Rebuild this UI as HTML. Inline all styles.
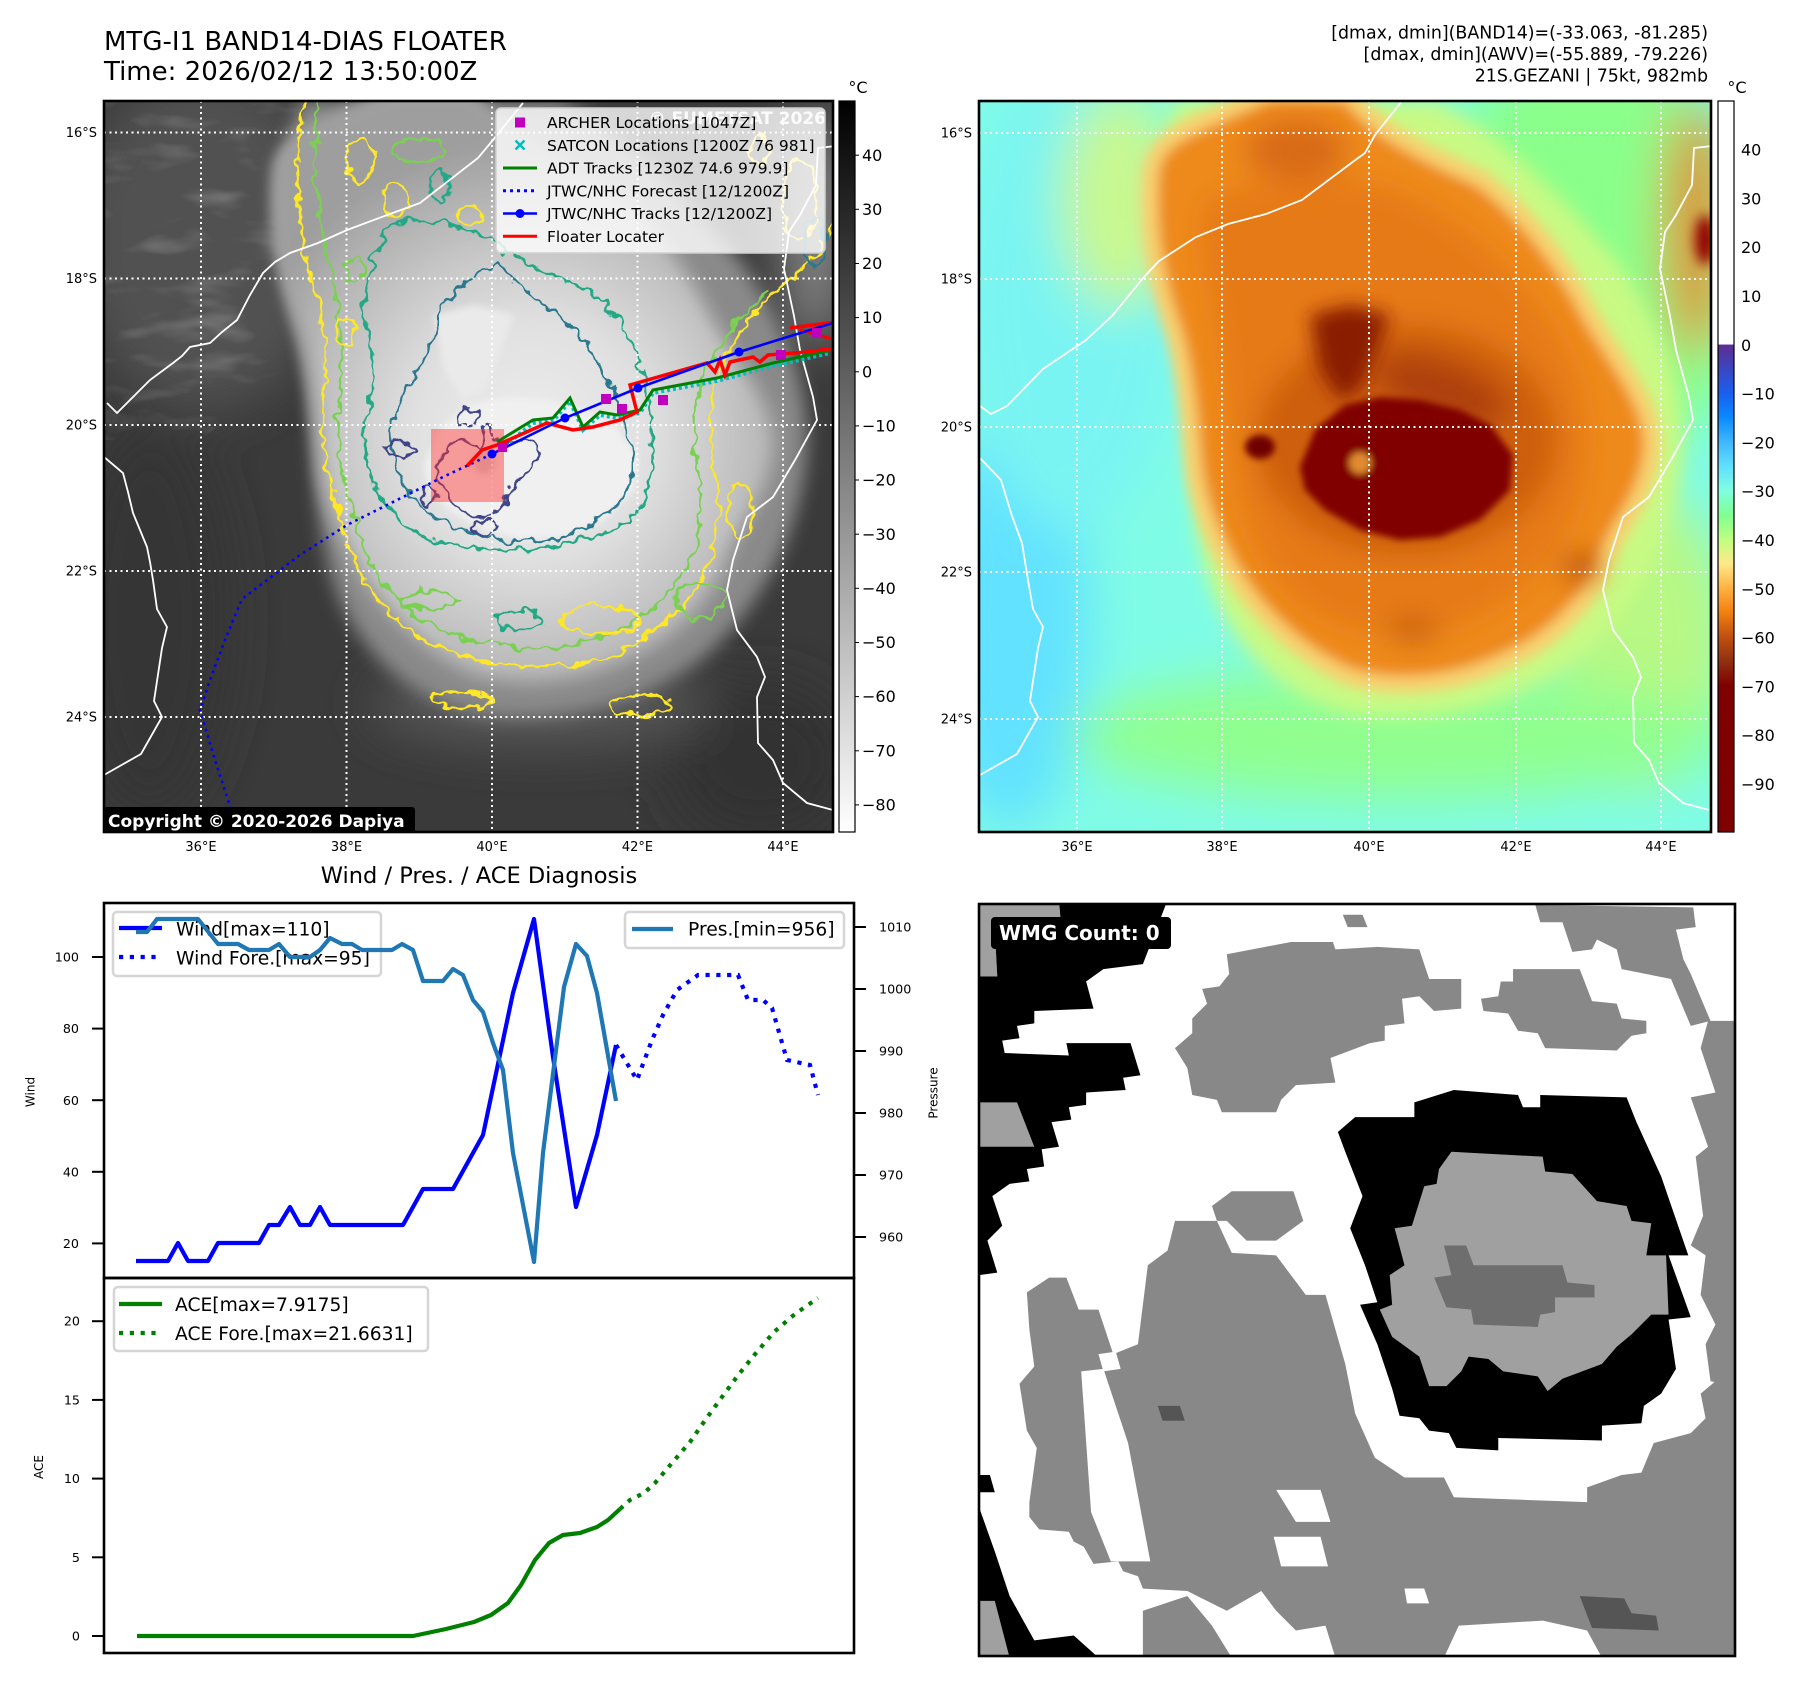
<!DOCTYPE html>
<html><head><meta charset="utf-8"><style>
html,body{margin:0;padding:0;background:#fff;}
body{width:1797px;height:1690px;overflow:hidden;}
svg{display:block;font-family:"DejaVu Sans","Liberation Sans",sans-serif;}
</style></head><body>
<svg width="1797" height="1690" viewBox="0 0 1797 1690" xmlns="http://www.w3.org/2000/svg">
<defs>
<clipPath id="cl"><rect x="104" y="101" width="729" height="731"/></clipPath>
<clipPath id="cr"><rect x="979" y="101" width="732" height="731"/></clipPath>
<clipPath id="cw"><rect x="104" y="903" width="750" height="375"/></clipPath>
<clipPath id="cul"><polygon points="104,101 330,101 300,250 280,380 200,440 104,440"/></clipPath>
<filter id="b6" filterUnits="userSpaceOnUse" x="-900" y="0" width="3600" height="1690"><feGaussianBlur stdDeviation="6"/></filter>
<filter id="b4" filterUnits="userSpaceOnUse" x="-900" y="0" width="3600" height="1690"><feGaussianBlur stdDeviation="3.5"/></filter>
<filter id="b9" filterUnits="userSpaceOnUse" x="-900" y="0" width="3600" height="1690"><feGaussianBlur stdDeviation="9"/></filter>
<filter id="b14" filterUnits="userSpaceOnUse" x="-900" y="0" width="3600" height="1690"><feGaussianBlur stdDeviation="14"/></filter>
<filter id="b25" filterUnits="userSpaceOnUse" x="-900" y="0" width="3600" height="1690"><feGaussianBlur stdDeviation="25"/></filter>
<filter id="rough" filterUnits="userSpaceOnUse" x="0" y="0" width="1797" height="1690">
<feTurbulence type="fractalNoise" baseFrequency="0.08" numOctaves="2" seed="4" result="n"/>
<feDisplacementMap in="SourceGraphic" in2="n" scale="15" xChannelSelector="R" yChannelSelector="G"/>
</filter>
<filter id="wtex" filterUnits="userSpaceOnUse" x="0" y="0" width="1797" height="1690">
<feTurbulence type="fractalNoise" baseFrequency="0.012 0.035" numOctaves="3" seed="5"/>
<feColorMatrix type="matrix" values="0 0 0 0 1  0 0 0 0 1  0 0 0 0 1  3 0 0 0 -1.55"/>
</filter>
<radialGradient id="gGr" gradientUnits="userSpaceOnUse" cx="531" cy="440" r="300">
<stop offset="0" stop-color="#ededed"/><stop offset="0.4" stop-color="#e0e0e0"/><stop offset="0.65" stop-color="#c6c6c6"/><stop offset="0.85" stop-color="#b0b0b0"/><stop offset="1" stop-color="#9e9e9e"/>
</radialGradient>
<linearGradient id="gcb1" x1="0" y1="0" x2="0" y2="1"><stop offset="0" stop-color="#000"/><stop offset="1" stop-color="#fff"/></linearGradient>
<linearGradient id="gcb2" x1="0" y1="0" x2="0" y2="1">
<stop offset="0" stop-color="#fff"/><stop offset="0.333" stop-color="#fff"/>
<stop offset="0.3335" stop-color="#5c2d91"/>
<stop offset="0.40" stop-color="#1a5ff0"/>
<stop offset="0.433" stop-color="#0a8aff"/>
<stop offset="0.467" stop-color="#40b8ff"/>
<stop offset="0.50" stop-color="#60e0ff"/>
<stop offset="0.533" stop-color="#80ffe0"/>
<stop offset="0.567" stop-color="#80ff90"/>
<stop offset="0.60" stop-color="#c0ff80"/>
<stop offset="0.633" stop-color="#ffe888"/>
<stop offset="0.667" stop-color="#ffb040"/>
<stop offset="0.70" stop-color="#f08010"/>
<stop offset="0.733" stop-color="#c05010"/>
<stop offset="0.767" stop-color="#903010"/>
<stop offset="0.80" stop-color="#800000"/>
<stop offset="1" stop-color="#800000"/>
</linearGradient>
</defs>

<!-- Titles -->
<text x="104" y="50" font-size="26">MTG-I1 BAND14-DIAS FLOATER</text>
<text x="104" y="80" font-size="26">Time: 2026/02/12 13:50:00Z</text>
<text x="1708" y="38.5" font-size="17.4" text-anchor="end">[dmax, dmin](BAND14)=(-33.063, -81.285)</text>
<text x="1708" y="60" font-size="17.4" text-anchor="end">[dmax, dmin](AWV)=(-55.889, -79.226)</text>
<text x="1708" y="81.5" font-size="17.4" text-anchor="end">21S.GEZANI | 75kt, 982mb</text>

<!-- ============ LEFT MAP ============ -->
<g clip-path="url(#cl)">
<rect x="104" y="101" width="729" height="731" fill="#3a3a3a"/>
<g filter="url(#b25)">
<ellipse cx="205" cy="240" rx="130" ry="170" fill="#515151"/>
<ellipse cx="150" cy="620" rx="80" ry="200" fill="#353535"/>
<ellipse cx="760" cy="760" rx="90" ry="80" fill="#333"/>
<ellipse cx="540" cy="705" rx="170" ry="40" fill="#585858"/>
<ellipse cx="815" cy="230" rx="30" ry="120" fill="#8a8a8a"/>
</g>
<g clip-path="url(#cul)"><rect x="104" y="101" width="300" height="360" filter="url(#wtex)" opacity="0.2"/></g>
<g filter="url(#b9)">
<path fill="#8a8a8a" d="M300,101 L560,101 C620,130 680,190 740,260 C790,330 815,400 805,470 C795,540 760,610 700,660 C640,705 560,725 480,715 C410,700 365,655 340,600 C318,545 315,480 312,410 C308,340 290,280 285,220 C282,170 290,130 300,101 Z"/>
</g>
<g filter="url(#b6)">
<path fill="#a0a0a0" stroke="#a0a0a0" stroke-width="24" d="M283,174 C285,140 330,130 394,101 L468,101 C490,130 530,155 599,185 C640,215 680,265 705,316 C730,360 765,400 768,440 C768,490 735,520 721,559 C705,600 670,635 626,653 C580,675 530,682 480,670 C440,655 400,620 375,585 C345,540 330,500 326,464 C322,420 318,370 306,330 C292,290 278,240 283,174 Z"/>
<path fill="url(#gGr)" d="M283,174 C285,140 330,130 394,101 L468,101 C490,130 530,155 599,185 C640,215 680,265 705,316 C730,360 765,400 768,440 C768,490 735,520 721,559 C705,600 670,635 626,653 C580,675 530,682 480,670 C440,655 400,620 375,585 C345,540 330,500 326,464 C322,420 318,370 306,330 C292,290 278,240 283,174 Z"/>
</g>
<g filter="url(#b4)">
<polygon fill="#eaeaea" points="434,315 474,305 514,315 499,355 484,390 464,400 444,370"/>
<polygon fill="#f0f0f0" points="424,467 439,430 469,405 504,397 544,400 584,410 614,425 637,455 634,490 604,520 564,537 524,540 484,530 449,510 429,490"/>
<circle cx="484" cy="463" r="11" fill="#d2d2d2"/>
</g>
<!-- contours -->
<g filter="url(#rough)" fill="none" stroke-width="2.6">
<path stroke="#fde725" d="M303,101 C296,150 296,200 305,250 C315,290 330,330 325,380 C318,420 325,470 340,520 C355,580 390,630 450,652 C520,675 590,672 640,640 C690,610 715,570 718,520 C720,480 705,440 712,400 C720,350 760,300 800,270 C820,255 830,230 840,210"/>
<path stroke="#7ad151" d="M318,101 C312,160 315,210 328,260 C338,300 345,340 340,390 C335,440 345,490 358,530 C375,585 410,620 460,638 C520,655 585,650 630,625 C672,600 695,565 700,520 C703,480 690,440 697,400 C705,360 735,320 770,290"/>
<path stroke="#22a884" d="M390,227 C420,212 460,225 490,240 C520,262 560,280 590,290 C615,310 630,335 637,357 C645,380 650,400 650,420 C655,450 655,475 643,503 C630,525 610,533 580,540 C550,548 530,550 513,550 C480,550 450,545 423,537 C395,520 380,500 373,480 C365,460 363,440 363,430 C368,410 373,395 373,380 C370,350 365,330 363,313 C365,280 375,250 390,227 Z"/>
<path stroke="#2a788e" d="M440,320 C445,295 470,280 497,262 C520,290 550,310 575,330 C600,360 620,400 630,440 C635,470 630,490 623,497 C610,515 590,527 560,538 C530,545 500,540 483,537 C455,528 435,515 423,507 C400,485 390,455 390,430 C395,400 430,360 440,320 Z"/>
<ellipse cx="360" cy="160" rx="14" ry="22" stroke="#fde725"/>
<ellipse cx="420" cy="150" rx="25" ry="12" stroke="#7ad151"/>
<ellipse cx="395" cy="200" rx="12" ry="18" stroke="#fde725"/>
<ellipse cx="440" cy="185" rx="10" ry="16" stroke="#22a884"/>
<ellipse cx="470" cy="215" rx="14" ry="8" stroke="#fde725"/>
<ellipse cx="345" cy="330" rx="10" ry="14" stroke="#fde725"/>
<ellipse cx="355" cy="270" rx="8" ry="12" stroke="#7ad151"/>
<ellipse cx="600" cy="620" rx="40" ry="14" stroke="#fde725"/>
<ellipse cx="700" cy="600" rx="25" ry="18" stroke="#7ad151"/>
<ellipse cx="430" cy="600" rx="30" ry="10" stroke="#7ad151"/>
<ellipse cx="460" cy="700" rx="30" ry="8" stroke="#fde725"/>
<ellipse cx="640" cy="705" rx="30" ry="10" stroke="#fde725"/>
<ellipse cx="520" cy="620" rx="25" ry="9" stroke="#22a884"/>
<ellipse cx="740" cy="510" rx="12" ry="30" stroke="#fde725"/>
<ellipse cx="800" cy="200" rx="18" ry="40" stroke="#fde725"/>
<ellipse cx="815" cy="240" rx="10" ry="25" stroke="#2a788e"/>
<ellipse cx="760" cy="150" rx="10" ry="14" stroke="#fde725"/>
</g>
<g fill="none" stroke="#414487" stroke-width="2.6" filter="url(#rough)">
<path d="M437,470 C440,490 450,503 465,512 C480,522 495,520 507,497 C515,485 530,470 537,457 C540,445 530,440 520,440 C510,438 505,445 500,443 C495,435 490,425 487,423 C482,430 482,440 480,447 C470,442 462,438 457,440 C447,445 440,455 437,470 Z"/>
<ellipse cx="468" cy="418" rx="10" ry="8"/>
<ellipse cx="485" cy="528" rx="12" ry="7"/>
<ellipse cx="428" cy="495" rx="7" ry="10"/>
<ellipse cx="400" cy="450" rx="14" ry="9"/>
</g>
<!-- coastlines -->
<g fill="none" stroke="#fff" stroke-width="1.8">
<polyline points="523,103 493,140 478,158 420,203 390,214 347,230 318,243 290,253 275,262 263,273 250,295 237,320 222,332 210,343 190,347 182,356 173,363 150,380 130,400 117,413 107,403"/>
<polyline points="104,457 123,473 128,492 133,513 140,530 147,547 150,562 153,580 157,609 167,627 162,648 154,701 162,717 141,754 104,775"/>
<polyline points="836,146 818,148 816,185 800,215 789,232 784,269 794,316 800,350 813,397 817,420 795,460 773,497 747,517 733,560 727,590 737,630 757,657 765,677 757,697 758,743 773,760 783,783 807,803 833,810"/>
</g>
<!-- grid -->
<g stroke="#fff" stroke-width="2" stroke-dasharray="2,3.5">
<line x1="201" y1="101" x2="201" y2="832"/><line x1="346.5" y1="101" x2="346.5" y2="832"/><line x1="492" y1="101" x2="492" y2="832"/><line x1="637.5" y1="101" x2="637.5" y2="832"/><line x1="783" y1="101" x2="783" y2="832"/>
<line x1="104" y1="132.5" x2="833" y2="132.5"/><line x1="104" y1="278.5" x2="833" y2="278.5"/><line x1="104" y1="425" x2="833" y2="425"/><line x1="104" y1="571" x2="833" y2="571"/><line x1="104" y1="717" x2="833" y2="717"/>
</g>
<!-- floater box -->
<rect x="431" y="429" width="73" height="73" fill="#ff3030" opacity="0.45"/>
<!-- tracks -->
<polyline points="492,454 443,477 347,525 300,555 242,599 225,640 210,680 200,710 215,760 230,806 238,832" fill="none" stroke="#0000ff" stroke-width="2.6" stroke-dasharray="2.6,4.2"/>
<polyline points="505,446 533,423 553,421 570,401 583,430 600,415 617,418 640,413 653,393 717,381 773,366 830,353" fill="none" stroke="#00bfbf" stroke-width="4" stroke-dasharray="3,3"/>
<polyline points="497,442 533,420 553,418 570,398 583,427 600,412 617,415 640,410 653,390 717,378 773,363 836,349" fill="none" stroke="#008000" stroke-width="3"/>
<polyline points="467,466 482,450 497,445 547,423 573,430 593,427 620,420 637,412 630,385 707,363 715,372 720,360 725,375 730,362 753,357 760,362 768,355 807,352 836,348" fill="none" stroke="#ff0000" stroke-width="3.5"/>
<polyline points="790,328 836,322" fill="none" stroke="#ff0000" stroke-width="3.5"/>
<polyline points="800,330 836,340" fill="none" stroke="#ff0000" stroke-width="3"/>
<polyline points="492,454 565,418 638,388 739,352 836,322" fill="none" stroke="#0000ff" stroke-width="2.6"/>
<g fill="#0000ff"><circle cx="492" cy="454" r="4.5"/><circle cx="565" cy="418" r="4.5"/><circle cx="638" cy="388" r="4.5"/><circle cx="739" cy="352" r="4.5"/></g>
<g fill="#bf00bf"><rect x="601" y="394" width="10" height="10"/><rect x="617" y="404" width="10" height="10"/><rect x="658" y="395" width="10" height="10"/><rect x="776" y="350" width="10" height="10"/><rect x="812" y="328" width="10" height="10"/><rect x="498" y="443" width="9" height="9"/></g>
<!-- watermark -->
<text x="826" y="124" font-size="17" font-weight="bold" fill="#e8e8e8" text-anchor="end">© EUMETSAT 2026</text>
<!-- copyright -->
<rect x="104" y="807" width="311" height="26" rx="3" fill="#000"/>
<text x="108" y="827" font-size="17" font-weight="bold" fill="#fff">Copyright © 2020-2026 Dapiya</text>
</g>
<rect x="104" y="101" width="729" height="731" fill="none" stroke="#000" stroke-width="2.6"/>

<!-- legend left map -->
<rect x="496" y="108" width="329" height="145" rx="5" fill="#fff" fill-opacity="0.8" stroke="#d0d0d0" stroke-width="1.5"/>
<rect x="515" y="117.5" width="10" height="10" fill="#bf00bf"/>
<path d="M515.5,140.5 L524.5,149.5 M524.5,140.5 L515.5,149.5" stroke="#00bfbf" stroke-width="2.6"/>
<line x1="503" y1="168" x2="537" y2="168" stroke="#008000" stroke-width="3"/>
<line x1="503" y1="190.7" x2="537" y2="190.7" stroke="#0000ff" stroke-width="3" stroke-dasharray="3,4"/>
<line x1="503" y1="213.5" x2="537" y2="213.5" stroke="#0000ff" stroke-width="2.6"/><circle cx="520" cy="213.5" r="4.5" fill="#0000ff"/>
<line x1="503" y1="236.3" x2="537" y2="236.3" stroke="#ff0000" stroke-width="3"/>
<g font-size="15.5" fill="#000">
<text x="547" y="128">ARCHER Locations [1047Z]</text>
<text x="547" y="151">SATCON Locations [1200Z 76 981]</text>
<text x="547" y="173.6">ADT Tracks [1230Z 74.6 979.9]</text>
<text x="547" y="196.3">JTWC/NHC Forecast [12/1200Z]</text>
<text x="547" y="219">JTWC/NHC Tracks [12/1200Z]</text>
<text x="547" y="242">Floater Locater</text>
</g>

<!-- left map tick labels -->
<g font-size="13" text-anchor="end">
<text x="97" y="137">16°S</text><text x="97" y="283">18°S</text><text x="97" y="429.5">20°S</text><text x="97" y="575.5">22°S</text><text x="97" y="721.5">24°S</text>
</g>
<g font-size="13" text-anchor="middle">
<text x="201" y="851">36°E</text><text x="346.5" y="851">38°E</text><text x="492" y="851">40°E</text><text x="637.5" y="851">42°E</text><text x="783" y="851">44°E</text>
</g>

<!-- colorbar 1 -->
<rect x="839" y="101" width="16" height="731" fill="url(#gcb1)" stroke="#000" stroke-width="1.2"/>
<text x="858" y="93" font-size="16" text-anchor="middle">°C</text>
<g stroke="#000" stroke-width="1">
<line x1="855" y1="155.2" x2="859" y2="155.2"/><line x1="855" y1="209.3" x2="859" y2="209.3"/><line x1="855" y1="263.5" x2="859" y2="263.5"/><line x1="855" y1="317.6" x2="859" y2="317.6"/><line x1="855" y1="371.8" x2="859" y2="371.8"/><line x1="855" y1="425.9" x2="859" y2="425.9"/><line x1="855" y1="480" x2="859" y2="480"/><line x1="855" y1="534.2" x2="859" y2="534.2"/><line x1="855" y1="588.3" x2="859" y2="588.3"/><line x1="855" y1="642.5" x2="859" y2="642.5"/><line x1="855" y1="696.6" x2="859" y2="696.6"/><line x1="855" y1="750.8" x2="859" y2="750.8"/><line x1="855" y1="804.9" x2="859" y2="804.9"/>
</g>
<g font-size="16">
<text x="862" y="161">40</text><text x="862" y="215">30</text><text x="862" y="269">20</text><text x="862" y="323">10</text><text x="862" y="377.5">0</text>
<text x="862" y="431.5">−10</text><text x="862" y="485.5">−20</text><text x="862" y="540">−30</text><text x="862" y="594">−40</text><text x="862" y="648">−50</text><text x="862" y="702">−60</text><text x="862" y="756.5">−70</text><text x="862" y="810.5">−80</text>
</g>

<!-- ============ RIGHT MAP ============ -->
<g clip-path="url(#cr)">
<rect x="979" y="101" width="732" height="731" fill="#80fce6"/>
<g filter="url(#b25)">
<ellipse cx="1010" cy="620" rx="80" ry="210" fill="#62e2ff"/>
<ellipse cx="1070" cy="300" rx="110" ry="230" fill="#7af4f2"/>
<ellipse cx="1590" cy="260" rx="170" ry="210" fill="#8aff8a"/>
<ellipse cx="1640" cy="640" rx="90" ry="150" fill="#b8f884"/>
<ellipse cx="1400" cy="735" rx="330" ry="65" fill="#90ff90"/>
<ellipse cx="1120" cy="200" rx="60" ry="110" fill="#c8f890"/>
<ellipse cx="1695" cy="230" rx="30" ry="130" fill="#e08020"/>
</g>
<ellipse cx="1705" cy="240" rx="10" ry="25" fill="#900000" filter="url(#b6)"/>
<g transform="translate(876,0)">
<g filter="url(#b9)">
<path fill="#c8fa84" d="M300,101 L560,101 C620,130 680,190 740,260 C790,330 815,400 805,470 C795,540 760,610 700,660 C640,705 560,725 480,715 C410,700 365,655 340,600 C318,545 315,480 312,410 C308,340 290,280 285,220 C282,170 290,130 300,101 Z"/>
</g>
<g filter="url(#b6)">
<path fill="#f8d070" stroke="#f8d070" stroke-width="34" d="M283,174 C285,140 330,130 394,101 L468,101 C490,130 530,155 599,185 C640,215 680,265 705,316 C730,360 765,400 768,440 C768,490 735,520 721,559 C705,600 670,635 626,653 C580,675 530,682 480,670 C440,655 400,620 375,585 C345,540 330,500 326,464 C322,420 318,370 306,330 C292,290 278,240 283,174 Z"/>
<path fill="#ee8a1c" d="M283,174 C285,140 330,130 394,101 L468,101 C490,130 530,155 599,185 C640,215 680,265 705,316 C730,360 765,400 768,440 C768,490 735,520 721,559 C705,600 670,635 626,653 C580,675 530,682 480,670 C440,655 400,620 375,585 C345,540 330,500 326,464 C322,420 318,370 306,330 C292,290 278,240 283,174 Z"/>
</g>
<g filter="url(#b14)">
<path fill="#e67a16" d="M330,200 C380,180 450,170 520,190 C590,220 640,270 680,330 C715,390 720,450 700,510 C680,565 630,610 570,630 C510,645 450,630 410,590 C375,550 360,500 355,450 C350,400 345,350 335,300 C325,260 320,220 330,200 Z"/>
<ellipse cx="531" cy="440" rx="150" ry="115" fill="#c85a10" opacity="0.85"/>
<ellipse cx="565" cy="390" rx="70" ry="30" transform="rotate(20 565 390)" fill="#a83a10" opacity="0.8"/>
<ellipse cx="705" cy="567" rx="18" ry="12" fill="#b04a0c"/>
<ellipse cx="537" cy="630" rx="25" ry="10" fill="#c0560e"/>
<ellipse cx="420" cy="150" rx="50" ry="30" fill="#d86a14"/>
</g>
<g filter="url(#b9)">
<polygon fill="#8a1a04" points="434,315 474,305 514,315 499,355 484,390 464,400 444,370"/>
</g>
<g filter="url(#b4)">
<polygon fill="#800000" points="424,467 439,430 469,405 504,397 544,400 584,410 614,425 637,455 634,490 604,520 564,537 524,540 484,530 449,510 429,490"/>
<ellipse cx="384" cy="447" rx="15" ry="12" fill="#700000"/>
<circle cx="484" cy="463" r="11" fill="#e08a30"/>
</g>
<g fill="none" stroke="#fff" stroke-width="1.8">
<polyline points="526,101 499,135 489,153 478,161 426,200 390,214 352,224 320,237 283,261 268,277 236,316 210,340 167,369 131,406 115,414 104,406"/>
<polyline points="104,458 125,480 136,516 146,543 152,580 157,609 167,627 162,648 154,701 162,717 141,754 104,775"/>
<polyline points="836,146 818,148 816,185 800,215 789,232 784,269 794,316 800,350 813,397 817,420 795,460 773,497 747,517 733,560 727,590 737,630 757,657 765,677 757,697 758,743 773,760 783,783 807,803 833,810"/>
</g>
</g>
<g stroke="#fff" stroke-width="2" stroke-dasharray="2,3.5">
<line x1="1077" y1="101" x2="1077" y2="832"/><line x1="1222" y1="101" x2="1222" y2="832"/><line x1="1369" y1="101" x2="1369" y2="832"/><line x1="1516" y1="101" x2="1516" y2="832"/><line x1="1661" y1="101" x2="1661" y2="832"/>
<line x1="979" y1="133" x2="1711" y2="133"/><line x1="979" y1="279" x2="1711" y2="279"/><line x1="979" y1="427" x2="1711" y2="427"/><line x1="979" y1="572" x2="1711" y2="572"/><line x1="979" y1="719" x2="1711" y2="719"/>
</g>
</g>
<rect x="979" y="101" width="732" height="731" fill="none" stroke="#000" stroke-width="2.6"/>
<g font-size="13" text-anchor="end">
<text x="972" y="137.5">16°S</text><text x="972" y="283.5">18°S</text><text x="972" y="431.5">20°S</text><text x="972" y="576.5">22°S</text><text x="972" y="723.5">24°S</text>
</g>
<g font-size="13" text-anchor="middle">
<text x="1077" y="851">36°E</text><text x="1222" y="851">38°E</text><text x="1369" y="851">40°E</text><text x="1516" y="851">42°E</text><text x="1661" y="851">44°E</text>
</g>

<!-- colorbar 2 -->
<rect x="1718" y="101" width="16" height="731" fill="url(#gcb2)" stroke="#000" stroke-width="1.2"/>
<text x="1737" y="93" font-size="16" text-anchor="middle">°C</text>
<g font-size="16">
<text x="1741" y="155.5">40</text><text x="1741" y="204.5">30</text><text x="1741" y="253">20</text><text x="1741" y="302">10</text><text x="1741" y="351">0</text>
<text x="1741" y="399.5">−10</text><text x="1741" y="448.5">−20</text><text x="1741" y="497">−30</text><text x="1741" y="546">−40</text><text x="1741" y="595">−50</text><text x="1741" y="643.5">−60</text><text x="1741" y="692.5">−70</text><text x="1741" y="741">−80</text><text x="1741" y="790">−90</text>
</g>

<!-- ============ WIND / PRES PANEL ============ -->
<text x="479" y="883" font-size="22.5" text-anchor="middle">Wind / Pres. / ACE Diagnosis</text>
<g clip-path="url(#cw)" fill="none" stroke-width="4.2" stroke-linejoin="round">
<polyline stroke="#0000ff" points="136,1261 168,1261 178,1243 188,1261 208,1261 218,1243 259,1243 269,1225 279,1225 290,1207 300,1225 310,1225 320,1207 330,1225 403,1225 423,1189 453,1189 483,1135 513,993 534,919 553,1057 576,1207 597,1135 616,1045"/>
<polyline stroke="#0000ff" stroke-linejoin="miter" stroke-dasharray="4.2,6.6" points="616,1045 637,1080 652,1040 663,1015 677,990 698,975 738,975 748,1000 763,1000 772,1008 787,1060 810,1065 818,1095"/>
</g>
<!-- wind legend (under pressure line) -->
<rect x="113" y="912" width="268" height="64" rx="4" fill="#fff" fill-opacity="0.8" stroke="#d5d5d5" stroke-width="2.5"/>
<line x1="119" y1="928" x2="162" y2="928" stroke="#0000ff" stroke-width="4.2"/>
<line x1="119" y1="957" x2="162" y2="957" stroke="#0000ff" stroke-width="4.2" stroke-dasharray="4.2,6.6"/>
<text x="176" y="935.5" font-size="18.7">Wind[max=110]</text>
<text x="176" y="964.5" font-size="18.7">Wind Fore.[max=95]</text>
<g clip-path="url(#cw)" fill="none" stroke-width="4.2" stroke-linejoin="round">
<polyline stroke="#1f77b4" points="136,932 147,932 157,919 198,919 218,944 238,944 249,950 269,950 279,944 290,957 310,957 320,950 330,938 342,944 352,944 362,950 392,950 402,944 413,950 423,981 443,981 453,969 463,975 473,1000 483,1012 493,1043 503,1070 513,1153 534,1262 543,1153 564,987 576,944 587,956 597,993 616,1101"/>
</g>
<rect x="104" y="903" width="750" height="375" fill="none" stroke="#000" stroke-width="2.6"/>
<!-- pres legend -->
<rect x="625" y="912" width="219" height="36" rx="4" fill="#fff" fill-opacity="0.8" stroke="#d5d5d5" stroke-width="2.5"/>
<line x1="632" y1="929" x2="673" y2="929" stroke="#1f77b4" stroke-width="4.2"/>
<text x="688" y="935.5" font-size="18.7">Pres.[min=956]</text>
<!-- wind ticks -->
<g stroke="#000" stroke-width="2">
<line x1="92" y1="1243.4" x2="104" y2="1243.4"/><line x1="92" y1="1171.8" x2="104" y2="1171.8"/><line x1="92" y1="1100.2" x2="104" y2="1100.2"/><line x1="92" y1="1028.6" x2="104" y2="1028.6"/><line x1="92" y1="957" x2="104" y2="957"/>
<line x1="854" y1="1237" x2="866" y2="1237"/><line x1="854" y1="1175" x2="866" y2="1175"/><line x1="854" y1="1113" x2="866" y2="1113"/><line x1="854" y1="1051" x2="866" y2="1051"/><line x1="854" y1="989" x2="866" y2="989"/><line x1="854" y1="927" x2="866" y2="927"/>
</g>
<g font-size="12.7" text-anchor="end">
<text x="79" y="1248">20</text><text x="79" y="1176.5">40</text><text x="79" y="1105">60</text><text x="79" y="1033">80</text><text x="79" y="961.5">100</text>
</g>
<g font-size="12.7">
<text x="879" y="1241.5">960</text><text x="879" y="1179.5">970</text><text x="879" y="1117.5">980</text><text x="879" y="1055.5">990</text><text x="879" y="993.5">1000</text><text x="879" y="931.5">1010</text>
</g>
<text transform="translate(34.5,1092) rotate(-90)" font-size="12" text-anchor="middle">Wind</text>
<text transform="translate(937.5,1093) rotate(-90)" font-size="12" text-anchor="middle">Pressure</text>

<!-- ============ ACE PANEL ============ -->
<g fill="none" stroke="#008000" stroke-width="4.2" stroke-linejoin="round">
<polyline points="137,1636 413,1636 446,1629 474,1622 491,1615 508,1603 521,1585 535,1560 549,1543 563,1535 580,1533 597,1527 608,1520 620,1509"/>
<polyline stroke-dasharray="4.2,6.6" points="620,1509 630,1500 644,1493 655,1483 672,1463 690,1442 706,1419 722,1397 739,1374 756,1353 774,1332 795,1314 818,1298"/>
</g>
<rect x="104" y="1278" width="750" height="375" fill="none" stroke="#000" stroke-width="2.6"/>
<rect x="114" y="1287" width="314" height="64" rx="4" fill="#fff" fill-opacity="0.8" stroke="#d5d5d5" stroke-width="2.5"/>
<line x1="119" y1="1304" x2="162" y2="1304" stroke="#008000" stroke-width="4.2"/>
<line x1="119" y1="1333" x2="162" y2="1333" stroke="#008000" stroke-width="4.2" stroke-dasharray="4.2,6.6"/>
<text x="175" y="1311" font-size="18.7">ACE[max=7.9175]</text>
<text x="175" y="1340" font-size="18.7">ACE Fore.[max=21.6631]</text>
<g stroke="#000" stroke-width="2">
<line x1="92" y1="1636" x2="104" y2="1636"/><line x1="92" y1="1557.3" x2="104" y2="1557.3"/><line x1="92" y1="1478.6" x2="104" y2="1478.6"/><line x1="92" y1="1399.9" x2="104" y2="1399.9"/><line x1="92" y1="1321.2" x2="104" y2="1321.2"/>
</g>
<g font-size="12.7" text-anchor="end">
<text x="80" y="1640.5">0</text><text x="80" y="1562">5</text><text x="80" y="1483">10</text><text x="80" y="1404.5">15</text><text x="80" y="1325.5">20</text>
</g>
<text transform="translate(43,1467) rotate(-90)" font-size="12" text-anchor="middle">ACE</text>

<!-- ============ WMG PANEL ============ -->
<svg x="980" y="900" width="770" height="770" viewBox="0 0 1560 1560">
<defs><clipPath id="cg"><rect x="-2" y="8" width="1532" height="1524"/></clipPath></defs>
<g clip-path="url(#cg)">
<rect x="-2" y="8" width="1532" height="1524" fill="#fff"/>
<polygon fill="#a0a0a0" points="-2,0 160,0 165,60 30,60 35,155 -2,155"/>
<polygon fill="#000" points="160,0 380,0 330,130 250,140 215,165 230,220 110,225 110,250 75,255 80,280 45,285 50,310 180,315 175,290 305,290 325,355 290,360 295,385 215,390 215,415 180,420 185,445 145,450 160,500 125,505 130,540 95,545 100,570 60,575 25,600 45,660 15,690 35,755 -2,760 -2,155 35,155 30,60 165,60"/>
<polygon fill="#a0a0a0" points="-2,410 75,410 110,500 -2,500"/>
<polygon fill="#888" points="500,110 630,85 715,85 720,100 805,95 890,100 910,160 975,160 975,220 920,225 890,195 855,200 860,250 820,255 820,285 790,290 710,320 720,370 640,375 610,405 600,430 490,430 480,405 430,395 420,340 395,300 430,270 430,240 460,210 450,180 485,175 505,150"/>
<polygon fill="#888" points="735,30 775,30 785,55 745,55"/>
<polygon fill="#888" points="1125,10 1445,15 1450,55 1410,60 1425,120 1440,150 1480,245 1440,255 1400,160 1350,150 1300,140 1290,100 1250,80 1240,100 1200,105 1180,45 1135,45"/>
<polygon fill="#888" points="1080,140 1215,140 1240,205 1290,210 1300,240 1350,245 1350,270 1320,275 1290,305 1145,300 1130,270 1090,265 1070,230 1020,225 1015,200 1050,195 1055,165 1080,165"/>
<polygon fill="#888" points="1475,245 1535,245 1535,985 1480,975 1470,900 1490,860 1460,800 1470,720 1440,700 1465,640 1450,520 1475,500 1440,400 1490,390 1460,300"/>
<polygon fill="#888" points="95,795 140,765 175,765 200,830 240,830 270,920 320,900 340,740 380,710 395,650 480,650 510,715 600,720 660,800 700,800 740,940 760,1040 800,1130 860,1170 940,1170 960,1210 1230,1220 1230,1190 1300,1165 1340,1160 1365,1100 1440,1080 1470,1050 1460,1000 1490,975 1535,960 1535,1535 1260,1535 1230,1480 1140,1460 970,1470 940,1535 720,1535 700,1470 640,1480 600,1440 570,1400 500,1440 440,1410 420,1400 330,1395 320,1370 290,1360 280,1340 230,1345 210,1310 190,1300 180,1280 120,1275 100,1250 100,1220 115,1110 95,1075 80,980 110,945 100,870"/>
<polygon fill="#888" points="470,620 510,590 635,590 655,650 600,690 540,690 500,650 480,650"/>
<polygon fill="#888" points="330,1440 420,1410 470,1470 510,1535 330,1535"/>
<polygon fill="#fff" points="205,955 250,950 300,1100 345,1340 265,1340 225,1240"/>
<polygon fill="#fff" points="240,920 275,915 285,950 250,955"/>
<polygon fill="#fff" points="600,1195 690,1195 710,1260 640,1260"/>
<polygon fill="#fff" points="595,1290 690,1290 705,1350 610,1350"/>
<polygon fill="#fff" points="860,1395 900,1395 910,1425 865,1425"/>
<polygon fill="#000" points="725,470 760,440 880,440 880,410 960,385 1090,395 1100,420 1135,420 1135,395 1310,400 1330,450 1380,560 1435,720 1395,720 1440,845 1395,850 1410,950 1380,1000 1345,1025 1340,1060 1260,1065 1260,1095 1050,1090 1050,1115 965,1110 950,1080 910,1075 890,1050 850,1045 835,990 805,900 770,820 805,815 780,740 750,665 775,600 740,510"/>
<polygon fill="#a0a0a0" points="955,510 1140,520 1145,550 1200,555 1250,610 1310,620 1320,650 1360,655 1350,720 1390,720 1395,840 1360,840 1320,880 1290,905 1260,940 1180,970 1150,995 1130,965 1060,955 1030,930 990,925 975,955 945,985 910,985 890,925 835,885 810,830 835,820 830,760 860,740 840,665 875,660 900,580 925,575 930,545"/>
<polygon fill="#6e6e6e" points="940,700 985,700 1000,740 1180,740 1190,775 1245,780 1245,805 1165,805 1165,835 1135,840 1130,865 1000,860 995,830 945,825 920,765 955,760"/>
<polygon fill="#555" points="360,1025 405,1025 415,1055 370,1055"/>
<polygon fill="#555" points="1215,1410 1305,1415 1320,1445 1370,1450 1375,1480 1240,1475"/>
<polygon fill="#000" points="-2,1230 30,1320 60,1410 110,1500 190,1490 240,1535 -2,1535"/>
<polygon fill="#000" points="-2,1165 20,1165 30,1200 -2,1200"/>
<polygon fill="#a0a0a0" points="-2,1420 30,1420 60,1535 -2,1535"/>
</g>
</svg>
<rect x="979" y="904" width="756" height="752" fill="none" stroke="#000" stroke-width="2.6"/>
<rect x="991" y="917" width="180" height="32" rx="4" fill="#000"/>
<text x="999" y="940" font-size="20" font-weight="bold" fill="#fff">WMG Count: 0</text>
</svg>
</body></html>
